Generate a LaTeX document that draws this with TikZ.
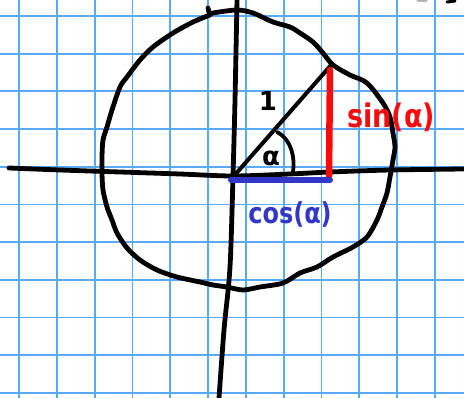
\documentclass[tikz,border=0pt]{standalone}
\usepackage{fontspec}
\setmainfont{DejaVu Sans}
\definecolor{gridblue}{RGB}{90,170,250}
\definecolor{penred}{RGB}{250,10,10}
\definecolor{penblue}{RGB}{50,55,200}
\begin{document}
\begin{tikzpicture}[x=1pt,y=-1pt,
  pen/.style={line width=4.8pt,line cap=round,line join=round,black},
  gridline/.style={line width=1.8pt,gridblue},
  lab/.style={inner sep=0pt,font=\fontsize{#1}{#1}\selectfont\bfseries}]
\useasboundingbox (0,0) rectangle (464,398);
\fill[white] (0,0) rectangle (464,398);
% grid
\foreach \i in {0,...,11} \draw[gridline] ({19+37.8*\i},0) -- ({19+37.8*\i},398);
\foreach \j in {0,...,10} \draw[gridline] (0,{16+37.7*\j}) -- (464,{16+37.7*\j});
% axes
\draw[pen] plot[smooth] coordinates {(9,168) (60,170) (120,172) (180,174) (233,176) (290,174) (330,172) (390,170) (464,169)};
\draw[pen] plot[smooth] coordinates {(237,0) (235,100) (233,176) (230,267) (224,330) (219,398)};
% circle
\draw[pen] plot[smooth] coordinates {(208,8) (210,15) (213,13) (237,10) (253,13) (273,22) (290,27) (300,33) (313,42) (323,53) (333,65) (350,75) (367,83) (383,103) (390,117) (393,133) (395,147) (393,160) (390,177) (387,193) (382,207) (377,220) (367,237) (353,247) (333,257) (317,267) (300,273) (283,283) (260,287) (243,290) (227,287) (213,285) (200,282) (177,277) (157,270) (140,260) (127,248) (117,233) (112,220) (107,207) (103,190) (102,173) (102,157) (103,140) (107,127) (112,110) (120,87) (127,77) (140,60) (153,47) (173,33) (193,22) (210,15)};
% radius and angle
\coordinate (O) at (233,177);
\coordinate (P) at (332,64);
\coordinate (F) at (329,176);
\draw[pen,line width=4pt] (O) -- (P);
\draw[pen,line width=3.8pt] (277,132) .. controls (292,140) and (295,158) .. (293,172);
% sin and cos segments
\draw[penred,line width=6.5pt,line cap=round] (330,70) -- (F);
\draw[penblue,line width=6pt,line cap=round] (231,180) -- (330,180);
% labels
\node[lab=26] (one) at (268,101) {1};
\node[lab=26] (alpha) at (271,158) {α};
\node[lab=27,penred,yscale=1.2] (sin) at (391,117) {sin(α)};
\node[lab=24,penblue,yscale=1.2] (cos) at (290,214) {cos(α)};
% remnants top right
\draw[gray!60,line width=3pt,line cap=round] (418,1) -- (426,1);
\draw[line width=3pt,line cap=round] (447,2) -- (455,1);
\end{tikzpicture}
\end{document}
